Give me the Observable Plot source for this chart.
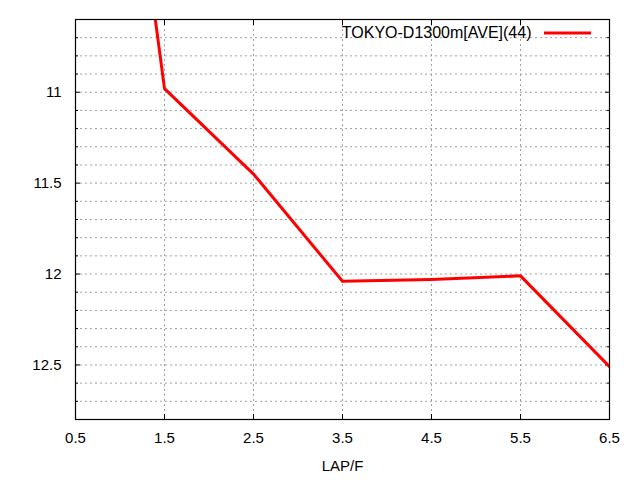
<!DOCTYPE html>
<html>
<head>
<meta charset="utf-8">
<script src="https://cdn.jsdelivr.net/npm/d3@7"></script>
<script src="https://cdn.jsdelivr.net/npm/@observablehq/plot@0.6"></script>
<style>
  body { margin: 0; background: #fff; }
</style>
</head>
<body>
<div id="chart"></div>
<script>
// lap (furlong) positions and average lap times
const laps = [0.5, 1.5, 2.5, 3.5, 4.5, 5.5, 6.5];
const times = [7.3, 10.98, 11.45, 12.04, 12.03, 12.01, 12.51];

const xTicks = [0.5, 1.5, 2.5, 3.5, 4.5, 5.5, 6.5];
const yMajor = [11, 11.5, 12, 12.5];
const yMinor = [10.6, 10.7, 10.8, 10.9, 11.1, 11.2, 11.3, 11.4, 11.6, 11.7, 11.8, 11.9,
  12.1, 12.2, 12.3, 12.4, 12.6, 12.7, 12.8];
const yGrid = [10.7, 10.8, 10.9, 11, 11.1, 11.2, 11.3, 11.4, 11.5, 11.6, 11.7, 11.8, 11.9,
  12, 12.1, 12.2, 12.3, 12.4, 12.5, 12.6, 12.7];
const seriesName = "TOKYO-D1300m[AVE](44)";

let data = laps.map((x, i) => ({x: x, y: times[i]}));

const grid = {stroke: "#a0a0a0", strokeOpacity: 1, strokeDasharray: "2,3", strokeWidth: 1};
const noText = () => "";

let chart = Plot.plot({
  width: 640,
  height: 480,
  marginLeft: 75,
  marginRight: 31,
  marginTop: 19,
  marginBottom: 61,
  style: {fontFamily: "'Liberation Sans', Arial, sans-serif", fontSize: "15px", color: "#000"},
  x: {domain: [0.5, 6.5], axis: null},
  y: {domain: [10.6, 12.8], reverse: true, axis: null},
  marks: [
    Plot.gridY(yGrid, grid),
    Plot.gridX(xTicks.slice(1, -1), grid),
    // inward tick marks on all four sides
    Plot.axisY(yMajor, {anchor: "left", tickSize: -5, tickFormat: noText, label: null}),
    Plot.axisY(yMinor, {anchor: "left", tickSize: -3, tickFormat: noText, label: null}),
    Plot.axisY(yMajor, {anchor: "right", tickSize: -5, tickFormat: noText, label: null}),
    Plot.axisY(yMinor, {anchor: "right", tickSize: -3, tickFormat: noText, label: null}),
    Plot.axisX(xTicks, {anchor: "bottom", tickSize: -5, tickFormat: noText, label: null}),
    Plot.axisX(xTicks, {anchor: "top", tickSize: -5, tickFormat: noText, label: null}),
    // tick labels
    Plot.axisY(yMajor, {anchor: "left", tickSize: 0, tickPadding: 14, tickFormat: d => String(d), label: null}),
    Plot.axisX(xTicks, {anchor: "bottom", tickSize: 0, tickPadding: 13, tickFormat: d => String(d), label: null}),
    Plot.text(["LAP/F"], {frameAnchor: "bottom", dy: 51, lineAnchor: "bottom", fontSize: 15}),
    Plot.line(data, {x: "x", y: "y", stroke: "#ff0000", strokeWidth: 3, clip: true}),
    Plot.text([seriesName], {frameAnchor: "top-right", dx: -78, dy: 13.5, textAnchor: "end", lineAnchor: "middle", fontSize: 16}),
    Plot.frame({stroke: "#000", strokeWidth: 1.2})
  ]
});

// legend sample line
d3.select(chart).append("line")
  .attr("x1", 544).attr("x2", 591)
  .attr("y1", 33).attr("y2", 33)
  .attr("stroke", "#ff0000").attr("stroke-width", 3);

d3.select('#chart').append(() => chart);
</script>
</body>
</html>
